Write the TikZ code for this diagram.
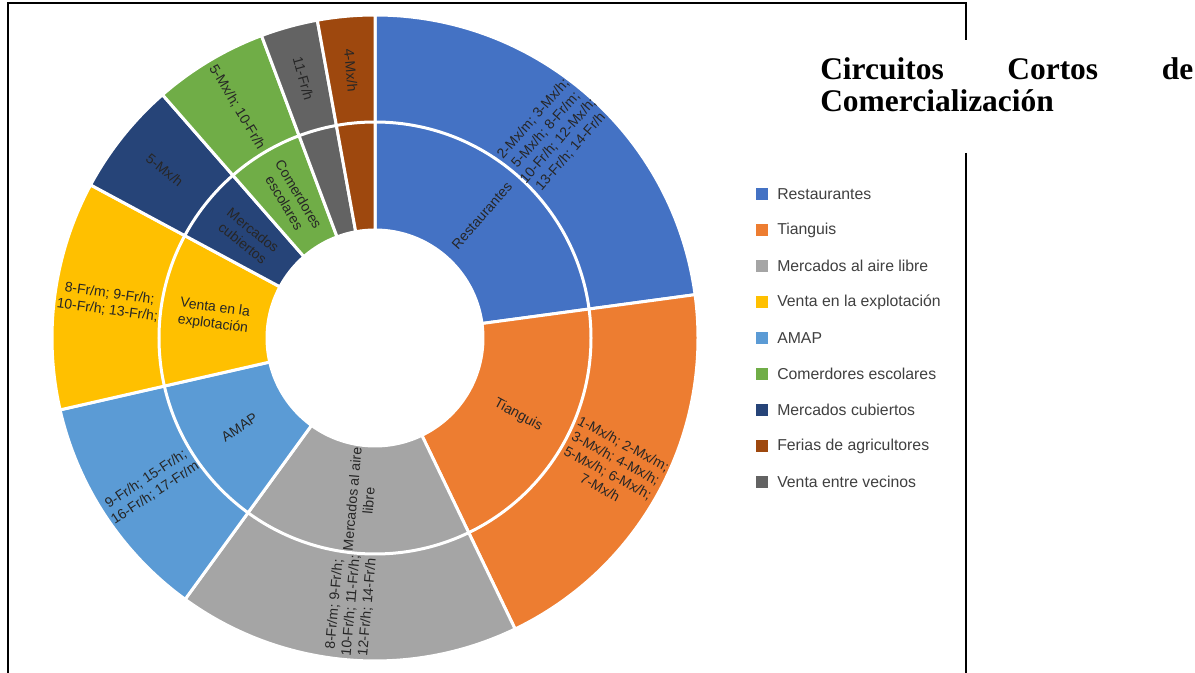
\documentclass[tikz,border=0pt]{standalone}
\usepackage{fontspec}
\setmainfont{Liberation Sans}
\newfontfamily\titlefont{Liberation Serif}
\usetikzlibrary{positioning}
\definecolor{restc}{HTML}{4472C4}
\definecolor{tianc}{HTML}{ED7D31}
\definecolor{librec}{HTML}{A5A5A5}
\definecolor{ventac}{HTML}{FFC000}
\definecolor{amapc}{HTML}{5B9BD5}
\definecolor{comedc}{HTML}{70AD47}
\definecolor{cubic}{HTML}{264478}
\definecolor{feriac}{HTML}{9E480E}
\definecolor{vecic}{HTML}{636363}

\begin{document}
\begin{tikzpicture}[x=0.75pt, y=0.75pt,
  seg/.style={draw=white, line width=2.25pt, line join=round},
  lbl/.style={font=\fontsize{10.5pt}{12.4pt}\selectfont, text=black!85, align=center, inner sep=0pt},
  legbox/.style={minimum size=9pt, inner sep=0pt, outer sep=0pt},
  legtext/.style={font=\fontsize{11.85pt}{14pt}\selectfont, text=black!75, inner sep=0pt, anchor=west},
  frameline/.style={line width=1.5pt}]
\useasboundingbox (-375,-335) rectangle (820,338);
\fill[white] (-375,-335) rectangle (820,338);

\filldraw[seg, fill=restc] (90:108) arc[start angle=90, end angle=7.71, radius=108] -- (7.71:323) arc[start angle=7.71, end angle=90, radius=323] -- cycle;
\filldraw[seg, fill=tianc] (7.71:108) arc[start angle=7.71, end angle=-64.29, radius=108] -- (-64.29:323) arc[start angle=-64.29, end angle=7.71, radius=323] -- cycle;
\filldraw[seg, fill=librec] (-64.29:108) arc[start angle=-64.29, end angle=-126, radius=108] -- (-126:323) arc[start angle=-126, end angle=-64.29, radius=323] -- cycle;
\filldraw[seg, fill=amapc] (-126:108) arc[start angle=-126, end angle=-167.14, radius=108] -- (-167.14:323) arc[start angle=-167.14, end angle=-126, radius=323] -- cycle;
\filldraw[seg, fill=ventac] (-167.14:108) arc[start angle=-167.14, end angle=-208.29, radius=108] -- (-208.29:323) arc[start angle=-208.29, end angle=-167.14, radius=323] -- cycle;
\filldraw[seg, fill=cubic] (-208.29:108) arc[start angle=-208.29, end angle=-228.86, radius=108] -- (-228.86:323) arc[start angle=-228.86, end angle=-208.29, radius=323] -- cycle;
\filldraw[seg, fill=comedc] (-228.86:108) arc[start angle=-228.86, end angle=-249.43, radius=108] -- (-249.43:323) arc[start angle=-249.43, end angle=-228.86, radius=323] -- cycle;
\filldraw[seg, fill=vecic] (-249.43:108) arc[start angle=-249.43, end angle=-259.71, radius=108] -- (-259.71:323) arc[start angle=-259.71, end angle=-249.43, radius=323] -- cycle;
\filldraw[seg, fill=feriac] (-259.71:108) arc[start angle=-259.71, end angle=-270, radius=108] -- (-270:323) arc[start angle=-270, end angle=-259.71, radius=323] -- cycle;
\draw[white, line width=2.25pt] (0,0) circle[radius=216];

\node[lbl, rotate=48.86] (rin) at (48.86:162.5) {Restaurantes};
\node[lbl, rotate=-28.29] (tin) at (-28.29:162.5) {Tianguis};
\node[lbl, rotate=84.86] (lin) at (-95.14:162.5) {Mercados al aire\\libre};
\node[lbl, rotate=33.43] (ain) at (-146.57:162.5) {AMAP};
\node[lbl, rotate=-7.71] (vin) at (172.29:162.5) {Venta en la\\explotación};
\node[lbl, rotate=-38.57] (cin) at (141.43:162.5) {Mercados\\cubiertos};
\node[lbl, rotate=-59.14] (ein) at (120.86:162.5) {Comerdores\\escolares};

\node[lbl, rotate=48.86] (rout) at (48.86:269) {2-Mx/m; 3-Mx/h;\\5-Mx/h; 8-Fr/m;\\10-Fr/h; 12-Mx/h;\\13-Fr/h; 14-Fr/h};
\node[lbl, rotate=-28.29] (tout) at (-28.29:269) {1-Mx/h; 2-Mx/m;\\3-Mx/h; 4-Mx/h;\\5-Mx/h; 6-Mx/h;\\7-Mx/h};
\node[lbl, rotate=84.86] (lout) at (-95.14:269) {8-Fr/m; 9-Fr/h;\\10-Fr/h; 11-Fr/h;\\12-Fr/h; 14-Fr/h};
\node[lbl, rotate=33.43] (aout) at (-146.57:269) {9-Fr/h; 15-Fr/h;\\16-Fr/h; 17-Fr/m};
\node[lbl, rotate=-7.71] (vout) at (172.29:269) {8-Fr/m; 9-Fr/h;\\10-Fr/h; 13-Fr/h;};
\node[lbl, rotate=-38.57] (cout) at (141.43:269) {5-Mx/h};
\node[lbl, rotate=-59.14] (eout) at (120.86:269) {5-Mx/h; 10-Fr/h};
\node[lbl, rotate=-74.57] (nout) at (105.43:269) {11-Fr/h};
\node[lbl, rotate=-84.86] (fout) at (95.14:269) {4-Mx/h};

\node[legbox, fill=restc] (lg1) at (387,144) {};
\node[legbox, fill=tianc] (lg2) at (387,108) {};
\node[legbox, fill=librec] (lg3) at (387,72) {};
\node[legbox, fill=ventac] (lg4) at (387,36) {};
\node[legbox, fill=amapc] (lg5) at (387,0) {};
\node[legbox, fill=comedc] (lg6) at (387,-36) {};
\node[legbox, fill=cubic] (lg7) at (387,-72) {};
\node[legbox, fill=feriac] (lg8) at (387,-108) {};
\node[legbox, fill=vecic] (lg9) at (387,-144) {};
\node[legtext, right=6.75pt of lg1] (lt1) {Restaurantes};
\node[legtext, right=6.75pt of lg2] (lt2) {Tianguis};
\node[legtext, right=6.75pt of lg3] (lt3) {Mercados al aire libre};
\node[legtext, right=6.75pt of lg4] (lt4) {Venta en la explotación};
\node[legtext, right=6.75pt of lg5] (lt5) {AMAP};
\node[legtext, right=6.75pt of lg6] (lt6) {Comerdores escolares};
\node[legtext, right=6.75pt of lg7] (lt7) {Mercados cubiertos};
\node[legtext, right=6.75pt of lg8] (lt8) {Ferias de agricultores};
\node[legtext, right=6.75pt of lg9] (lt9) {Venta entre vecinos};

\node[anchor=north west, inner sep=0pt, text width=279.75pt, align=justify,
  font=\titlefont\bfseries\fontsize{23.6pt}{23.6pt}\selectfont] (title) at (445,280.4)
  {Circuitos\hfill Cortos\hfill de\\Comercialización};

\draw[frameline] (-367,-335) -- (-367,335) -- (591,335) -- (591,298);
\draw[frameline] (591,185) -- (591,-335);
\end{tikzpicture}
\end{document}
